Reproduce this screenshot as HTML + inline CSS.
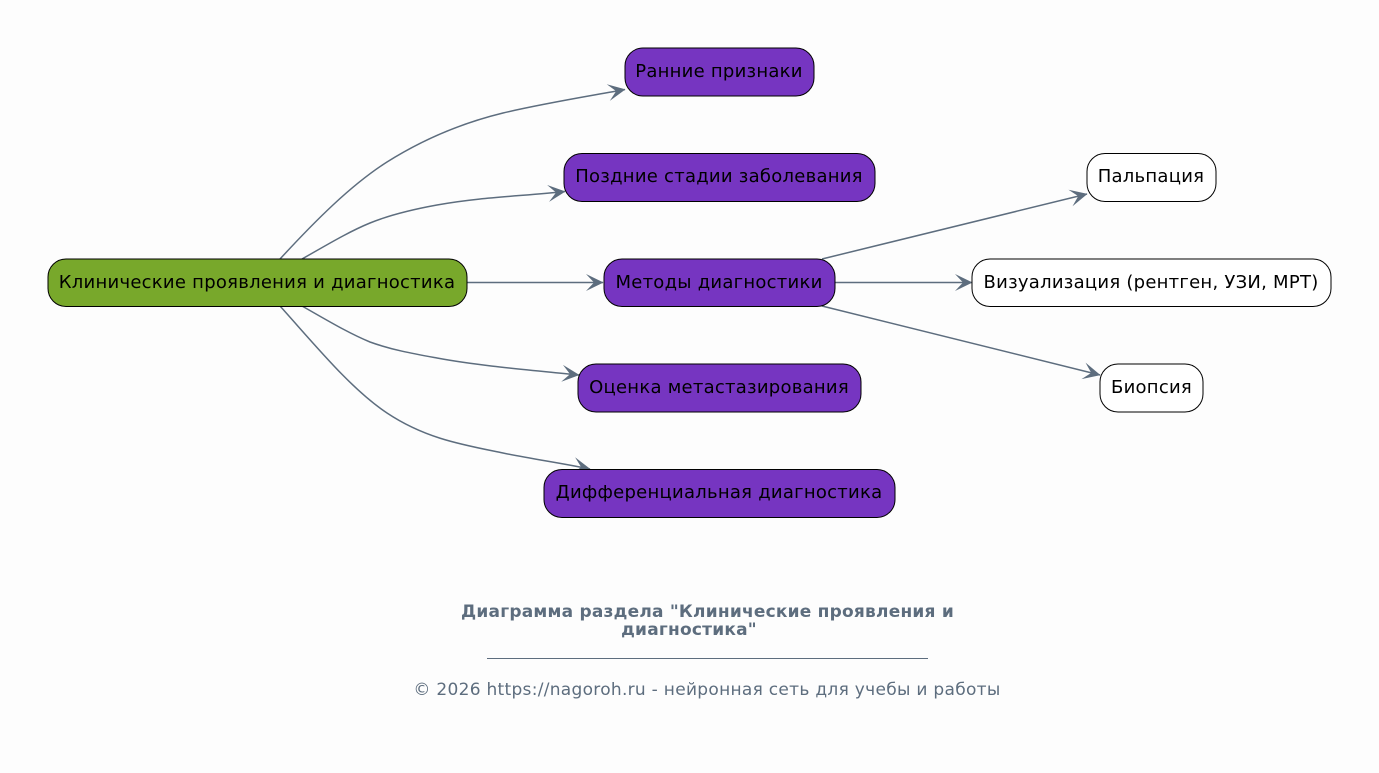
<!DOCTYPE html>
<html><head><meta charset="utf-8"><style>
html,body{margin:0;padding:0;background:#fdfdfd}
svg{display:block}
text{font-family:"DejaVu Sans",sans-serif}
.n{font-size:18px;letter-spacing:.25px;fill:#000;text-anchor:middle}
.e{fill:none;stroke:#5d6d7e;stroke-width:1.5}
.r{stroke:#000;stroke-width:1}
</style></head><body>
<svg width="1379" height="773" viewBox="0 0 1379 773" xmlns="http://www.w3.org/2000/svg">
<rect width="1379" height="773" fill="#fdfdfd"/>
<defs>
<marker id="a" viewBox="0 0 20 20" refX="19" refY="10" markerWidth="20" markerHeight="20" markerUnits="userSpaceOnUse" orient="auto">
<path d="M2 1.500 L19.500 10 L2 18.500 L10 10 Z" fill="#5d6d7e" stroke="none"/>
</marker>
</defs>
<path class="e" marker-end="url(#a)" d="M280 259 C316 220,351 185,387 162 C426 137.500,464 122.500,503 113 C543 103.500,584 97,625 89.500"/>
<path class="e" marker-end="url(#a)" d="M302 259 C325 246,348 232,370 223 C392 214,415 209,437 205 C480 197,525 196,565 191.500"/>
<path class="e" marker-end="url(#a)" d="M467 282.500 L603 282.500"/>
<path class="e" marker-end="url(#a)" d="M302 306 C325 319,348 333,370 342 C392 350,415 354,437 358 C480 366,530 370,579 375"/>
<path class="e" marker-end="url(#a)" d="M280 306 C316 346,351 389,387 413 C426 439,464 445,503 453 C532 459,561 463,590 469"/>
<path class="e" marker-end="url(#a)" d="M822 259 L1087 194"/>
<path class="e" marker-end="url(#a)" d="M835 282.500 L972 282.500"/>
<path class="e" marker-end="url(#a)" d="M822 306 L1100 375"/>
<rect class="r" x="48" y="259" width="419" height="47.500" rx="18" fill="#78a82b"/>
<text class="n" x="257" y="288">Клинические проявления и диагностика</text>
<rect class="r" x="625" y="48" width="189" height="48" rx="18" fill="#7635c1"/>
<text class="n" x="719" y="77">Ранние признаки</text>
<rect class="r" x="564" y="153.500" width="311" height="48" rx="18" fill="#7635c1"/>
<text class="n" x="719" y="182">Поздние стадии заболевания</text>
<rect class="r" x="604" y="259" width="231" height="47.500" rx="18" fill="#7635c1"/>
<text class="n" x="719" y="288">Методы диагностики</text>
<rect class="r" x="578" y="364" width="283" height="48" rx="18" fill="#7635c1"/>
<text class="n" x="719" y="393">Оценка метастазирования</text>
<rect class="r" x="544" y="469.500" width="351" height="48" rx="18" fill="#7635c1"/>
<text class="n" x="719" y="498">Дифференциальная диагностика</text>
<rect class="r" x="1087" y="153.500" width="129" height="48" rx="18" fill="#fff"/>
<text class="n" x="1151" y="182">Пальпация</text>
<rect class="r" x="972" y="259" width="359" height="47.500" rx="18" fill="#fff"/>
<text class="n" x="1151" y="288">Визуализация (рентген, УЗИ, МРТ)</text>
<rect class="r" x="1100" y="364" width="103" height="48" rx="18" fill="#fff"/>
<text class="n" x="1151.500" y="393">Биопсия</text>
<text x="707.500" y="617" font-size="17" letter-spacing=".22" font-weight="bold" fill="#5d6d7e" text-anchor="middle">Диаграмма раздела "Клинические проявления и</text>
<text x="689" y="635" font-size="17" letter-spacing=".22" font-weight="bold" fill="#5d6d7e" text-anchor="middle">диагностика"</text>
<rect x="487" y="658" width="441" height="1" fill="#5d6d7e"/>
<text x="707" y="695" font-size="17" letter-spacing=".29" fill="#5d6d7e" text-anchor="middle">© 2026 https://nagoroh.ru - нейронная сеть для учебы и работы</text>
</svg>
</body></html>
